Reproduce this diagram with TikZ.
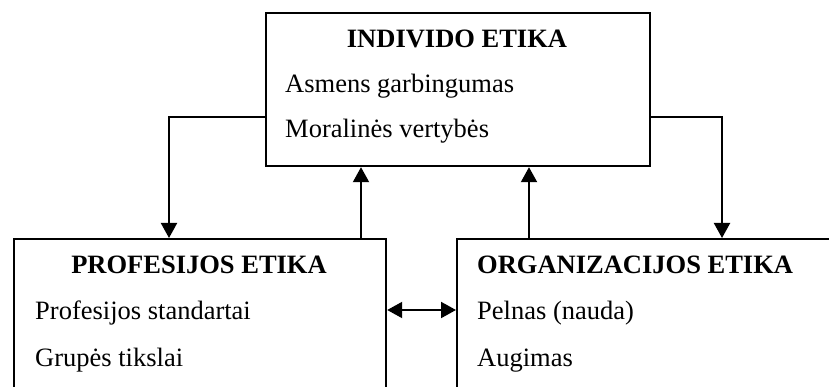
\documentclass[tikz,border=0pt]{standalone}
\usepackage{fontspec}
\setmainfont{Liberation Serif}
\usetikzlibrary{arrows.meta}
\begin{document}
\begin{tikzpicture}[x=1pt,y=-1pt,
  box/.style={draw=black,line width=2.2pt,rectangle,inner sep=0pt,anchor=north west},
  tip/.tip={Triangle[width=16pt,length=15pt]},
  arr/.style={line width=2pt,-tip},
  darr/.style={line width=2pt,tip-tip},
  ttl/.style={font=\fontsize{26.5}{30}\selectfont\bfseries,inner sep=0pt,anchor=base},
  txt/.style={font=\fontsize{26.5}{30}\selectfont,inner sep=0pt,anchor=base west}]
\useasboundingbox (0,0) rectangle (829,387);
\clip (0,0) rectangle (829,387);
\node[box,minimum width=384pt,minimum height=153pt] (ind) at (265,12) {};
\node[box,minimum width=372pt,minimum height=170pt] (prof) at (13,238) {};
\node[box,minimum width=400pt,minimum height=170pt] (org) at (456,238) {};
\node[ttl] (t1) at (457,48) {INDIVIDO ETIKA};
\node[txt] (a1) at (285,93) {Asmens garbingumas};
\node[txt] (a2) at (285,138) {Moralinės vertybės};
\node[ttl] (t2) at (199,273) {PROFESIJOS ETIKA};
\node[txt] (b1) at (35,319) {Profesijos standartai};
\node[txt] (b2) at (35,366) {Grupės tikslai};
\node[ttl,anchor=base west] (t3) at (477,273) {ORGANIZACIJOS ETIKA};
\node[txt] (c1) at (477,319) {Pelnas (nauda)};
\node[txt] (c2) at (477,366) {Augimas};
\draw[arr] (ind.west |- 0,117) -| (prof.north -| 169,0);
\draw[arr] (ind.east |- 0,117) -| (org.north -| 722,0);
\draw[arr] (prof.north -| 361,0) -- (ind.south -| 361,0);
\draw[arr] (org.north -| 529,0) -- (ind.south -| 529,0);
\draw[darr] (prof.east |- 0,310) -- (org.west |- 0,310);
\end{tikzpicture}
\end{document}
